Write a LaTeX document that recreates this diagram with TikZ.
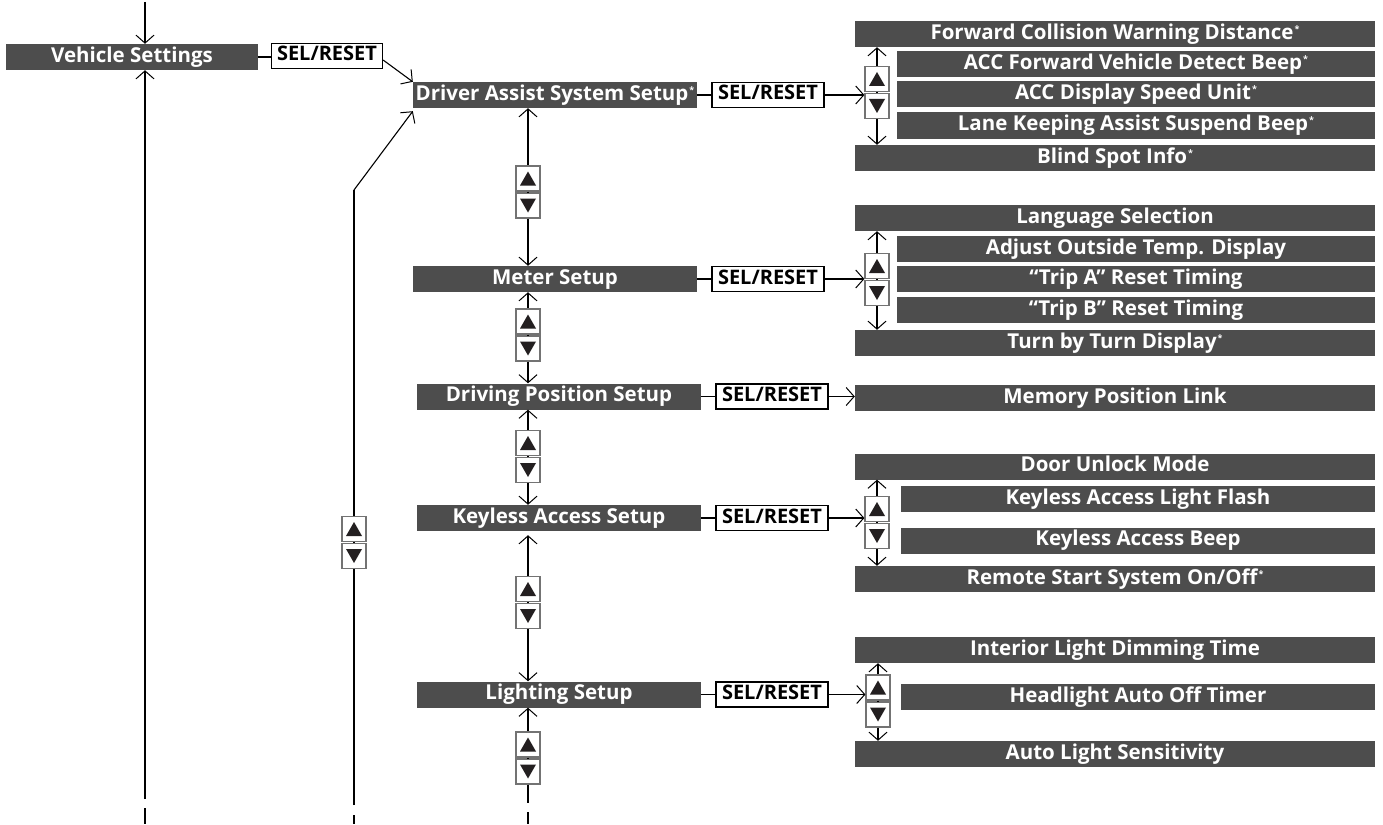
\documentclass[tikz,border=0pt]{standalone}
\usepackage{fontspec}
\setmainfont{Open Sans}
\usetikzlibrary{arrows.meta,positioning,calc}

\definecolor{menugray}{RGB}{77,77,77}
\definecolor{trigray}{RGB}{35,31,32}

\begin{document}
\begin{tikzpicture}[x=1pt,y=-1pt,
    >={Straight Barb[length=8pt,width=18pt,line width=1pt]},
    conn/.style={line width=1.8pt},
    diag/.style={line width=1.1pt},
    menu/.style={fill=menugray, text=white, inner sep=0pt, minimum height=26,
        text height=14.5pt, text depth=4pt,
        font=\bfseries\fontsize{20.5}{22}\selectfont},
    wide/.style={menu, minimum width=520},
    narrow/.style={menu, minimum width=478},
    sel/.style={draw, line width=1.2pt, fill=white, text=black, inner sep=0pt,
        minimum width=111, minimum height=25, text height=14pt, text depth=4pt,
        font=\bfseries\fontsize{20}{22}\selectfont},
    btn/.style={draw=black!55, line width=1.2pt, fill=white, inner sep=0pt,
        minimum width=24, minimum height=25},
    btnup/.style={btn, path picture={
        \fill[trigray] ($(path picture bounding box.center)+(0,-7)$)
            -- ($(path picture bounding box.center)+(8,7)$)
            -- ($(path picture bounding box.center)+(-8,7)$) -- cycle;}},
    btndn/.style={btn, path picture={
        \fill[trigray] ($(path picture bounding box.center)+(0,7)$)
            -- ($(path picture bounding box.center)+(8,-7)$)
            -- ($(path picture bounding box.center)+(-8,-7)$) -- cycle;}}
]

                % Picture size
                \useasboundingbox (0,0) rectangle (1383,824);

                % Helper: small star after optional items
                \newcommand{\opt}{\hspace{1pt}\raisebox{7pt}{\fontsize{9}{9}\selectfont *}}

                % Helper: up/down button pair, name #1, centre of upper box at (#2,#3)
                \newcommand{\updown}[3]{%
                    \node[btnup] (#1up) at (#2,#3) {};
                    \node[btndn] (#1dn) at (#2,#3+27) {};
                }

                % ---- main column ----
                \node[menu, minimum width=252] (vehicle) at (132,57) {Vehicle Settings};
                \node[sel] (sel0) at (327,56) {SEL/RESET};

                \node[menu, minimum width=284] (assist) at (555,95) {Driver Assist System Setup\opt};
                \node[menu, minimum width=284] (meter) at (555,279) {Meter Setup};
                \node[menu, minimum width=284] (driving) at (559,396.5) {Driving Position Setup};
                \node[menu, minimum width=284] (keyless) at (559,518) {Keyless Access Setup};
                \node[menu, minimum width=284] (lighting) at (559,694.5) {Lighting Setup};

                \node[sel, minimum width=112] (sel1) at (768,95) {SEL/RESET};
                \node[sel, minimum width=112] (sel2) at (768,279) {SEL/RESET};
                \node[sel, minimum width=112] (sel3) at (772,396.5) {SEL/RESET};
                \node[sel, minimum width=112] (sel4) at (772,518) {SEL/RESET};
                \node[sel, minimum width=112] (sel5) at (772,694.5) {SEL/RESET};

                % ---- right column ----
                \node[wide] (fcw) at (1115,34) {Forward Collision Warning Distance\opt};
                \node[narrow] (accbeep) at (1136,64.5) {ACC Forward Vehicle Detect Beep\opt};
                \node[narrow] (accunit) at (1136,94.5) {ACC Display Speed Unit\opt};
                \node[narrow] (lkas) at (1136,125.5) {Lane Keeping Assist Suspend Beep\opt};
                \node[wide] (blind) at (1115,158) {Blind Spot Info\opt};

                \node[wide] (lang) at (1115,218) {Language Selection};
                \node[narrow] (temp) at (1136,249) {Adjust Outside Temp. Display};
                \node[narrow] (tripa) at (1136,279) {“Trip A” Reset Timing};
                \node[narrow] (tripb) at (1136,310) {“Trip B” Reset Timing};
                \node[wide] (turn) at (1115,343) {Turn by Turn Display\opt};

                \node[wide] (memory) at (1115,398) {Memory Position Link};

                \node[wide] (door) at (1115,466.5) {Door Unlock Mode};
                \node[narrow, minimum width=474] (flash) at (1138,499) {Keyless Access Light Flash};
                \node[narrow, minimum width=474] (kbeep) at (1138,540.5) {Keyless Access Beep};
                \node[wide] (remote) at (1115,579) {Remote Start System On/Off\opt};

                \node[wide] (dimming) at (1115,650) {Interior Light Dimming Time};
                \node[narrow, minimum width=474] (headoff) at (1138,697) {Headlight Auto Off Timer};
                \node[wide] (sense) at (1115,754) {Auto Light Sensitivity};

                % ---- buttons ----
                \updown{am}{528}{178.5}
                \updown{md}{528}{321.5}
                \updown{dk}{528}{443}
                \updown{kl}{528}{589}
                \updown{lb}{528}{744.5}
                \updown{side}{354}{529}
                \updown{ra}{877}{79}
                \updown{rm}{877}{266}
                \updown{rk}{877}{509}
                \updown{rl}{878}{687.5}

                % ---- left line ----
                \coordinate (vin) at (145,2);
                \coordinate (vout) at (145,799);
                \coordinate (vdash) at (145,808);
                \draw[conn,->] (vin) -- (vin |- vehicle.north);
                \draw[conn,->] (vout) -- (vout |- vehicle.south);
                \draw[conn] (vdash) -- ++(0,16);

                \draw[conn] (vehicle.east) -- (vehicle.east -| sel0.west);
                \draw[diag,->] ([yshift=-4pt]sel0.east) -- (assist.north west);

                % ---- return line ----
                \coordinate (sbot) at (354,805);
                \coordinate (sbend) at (354,190);
                \coordinate (sdash) at (354,815);
                \draw[conn] (sbot) -- (sidedn.south);
                \draw[conn] (sideup.south) -- (sidedn.north);
                \draw[conn] (sideup.north) -- (sbend);
                \draw[diag,->] (sbend) -- ([yshift=-3pt]assist.south west);
                \draw[conn] (sdash) -- ++(0,9);

                % ---- middle column ----
                \foreach \a/\b/\c in {assist/am/meter, meter/md/driving, driving/dk/keyless} {
                    \draw[conn,<-] (\a.south -| \b up) -- (\b up.north);
                    \draw[conn] (\b up.south) -- (\b dn.north);
                    \draw[conn,->] (\b dn.south) -- (\c.north -| \b dn);
                }
                \draw[conn,<-] ($(keyless.south -| klup)+(0,4)$) -- (klup.north);
                \draw[conn] (klup.south) -- (kldn.north);
                \draw[conn,->] (kldn.south) -- (lighting.north -| kldn);
                \draw[conn,<-] (lighting.south -| lbup) -- (lbup.north);
                \draw[conn] (lbup.south) -- (lbdn.north);
                \coordinate (mbot) at (528,803);
                \coordinate (mdash) at (528,812);
                \draw[conn] (lbdn.south) -- (mbot);
                \draw[conn] (mdash) -- ++(0,12);

                % ---- menu to SEL/RESET to lists ----
                \foreach \m/\s in {assist/sel1, meter/sel2, driving/sel3, keyless/sel4, lighting/sel5} {
                    \draw[conn] (\m.east) -- (\s.west);
                }
                \foreach \s/\r in {sel1/ra, sel2/rm, sel4/rk, sel5/rl} {
                    \draw[conn,->] (\s.east) -- (\s.east -| \r up.west);
                }
                \draw[conn,->] (sel3.east) -- (sel3.east -| memory.west);

                % ---- right column buttons ----
                \foreach \r/\t/\b in {ra/fcw/blind, rm/lang/turn, rk/door/remote, rl/dimming/sense} {
                    \draw[conn,->] (\r up.north) -- (\r up.north |- \t.south);
                    \draw[conn] (\r up.south) -- (\r dn.north);
                    \draw[conn,->] (\r dn.south) -- (\r dn.south |- \b.north);
                }

            \end{tikzpicture}
\end{document}
